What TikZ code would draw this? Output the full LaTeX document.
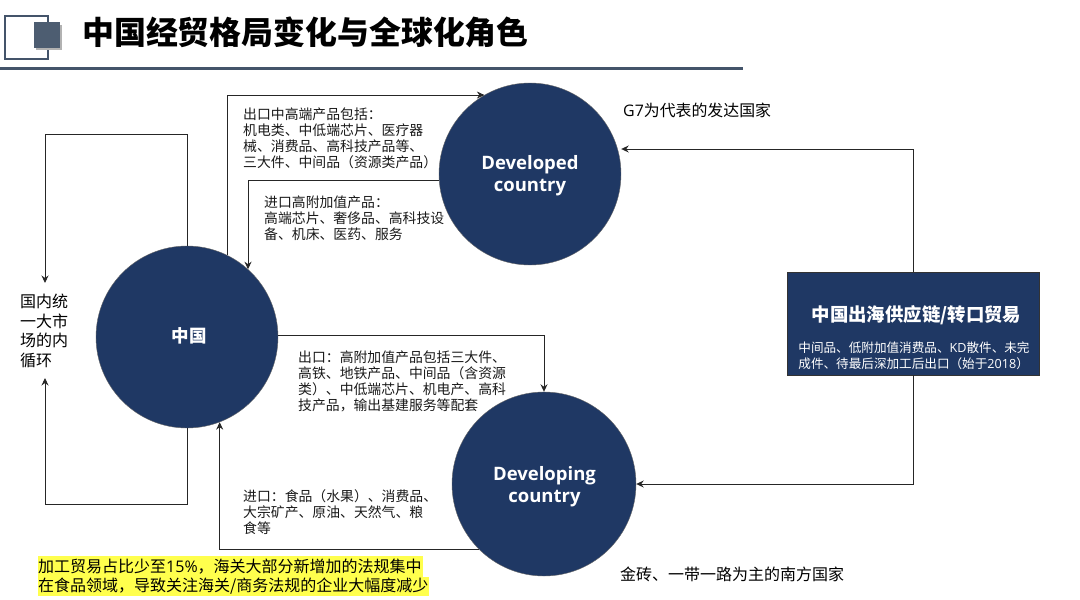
\documentclass[tikz,border=0pt]{standalone}
\usepackage{fontspec}
\setmainfont{Noto Sans CJK SC}
\newfontfamily\lat{Open Sans}
\usetikzlibrary{arrows.meta}
\definecolor{navy}{HTML}{1F3864}
\definecolor{slate}{HTML}{44546A}
\definecolor{hl}{HTML}{FFFF4D}
\tikzset{
  conn/.style={draw=black!85,line width=0.9pt,-{Stealth[length=7.5pt,width=7pt]}},
  bub/.style={circle,fill=navy,draw=black!60,line width=0.4pt,minimum size=182pt,inner sep=0pt},
  bubtext/.style={inner sep=0pt,text=white,align=center,font=\fontsize{18.5}{22}\selectfont\lat\bfseries},
  lab/.style={anchor=north west,inner sep=0pt,align=left,text=black!90,font=\fontsize{13.85}{16}\selectfont},
}
\begin{document}
\begin{tikzpicture}[x=1pt,y=-1pt]
\useasboundingbox (0,0) rectangle (1080,600);
% header
\draw[draw=slate,line width=1.2pt,fill=white] (5,16) rectangle (48,59);
\fill[black!30] (36,25) rectangle (62,50);
\fill[slate!95!white] (34,22) rectangle (60,48);
\node[anchor=west,inner sep=0pt,font=\fontsize{31.9}{36}\selectfont\bfseries] (title) at (82,32) {中国经贸格局变化与全球化角色};
\fill[slate] (0,66.5) rectangle (743,70);
% circles
\node[bub] (china) at (187,337) {};
\node[bub] (dev) at (530,174) {};
\node[bub,minimum size=184pt] (ding) at (544,484) {};
\node[inner sep=0pt,text=white,font=\fontsize{17.5}{20}\selectfont\bfseries] (chinat) at (189,335.5) {中国};
\node[bubtext] (devt) at (530,176) {Developed\\country};
\node[bubtext] (dingt) at (544.5,486.5) {Developing\\country};
% box
\node[draw=black!80,line width=0.5pt,fill=navy,minimum width=252pt,minimum height=103pt,inner sep=0pt] (box) at (913,323.5) {};
\node[inner sep=0pt,text=white,font=\fontsize{18.4}{22}\selectfont\bfseries] (boxt) at (916.5,315) {中国出海供应链/转口贸易};
\node[inner sep=0pt,text=white,align=left,font=\fontsize{12.6}{16}\selectfont] (boxs) at (914,356) {中间品、低附加值消费品、{\lat KD}散件、未完\\成件、待最后深加工后出口（始于{\lat 2018}）};
% connectors
\draw[conn] (china.64) |- (dev.120);
\draw[conn] (dev.184) -| (china.48);
\draw[conn] (china.east |- 0,335) -| (ding.north);
\draw[conn] (ding.225) -| (china.-69);
\draw[conn] (box.north) |- (dev.east |- 0,149);
\draw[conn] (box.south) |- (ding.east |- 0,484);
\coordinate (inTop) at (45,283);
\coordinate (inBot) at (45,378);
\draw[conn] (china.north) |- (45,134) -- (inTop);
\draw[conn] (china.south) |- (45,504) -- (inBot);
% labels
\node[lab] (t1) at (243,107.5) {出口中高端产品包括：\\机电类、中低端芯片、医疗器\\械、消费品、高科技产品等、\\三大件、中间品（资源类产品）};
\node[lab] (t2) at (264,195.5) {进口高附加值产品：\\高端芯片、奢侈品、高科技设\\备、机床、医药、服务};
\node[lab] (t3) at (298,350.5) {出口：高附加值产品包括三大件、\\高铁、地铁产品、中间品（含资源\\类）、中低端芯片、机电产、高科\\技产品，输出基建服务等配套};
\node[lab] (t4) at (243,489.5) {进口：食品（水果）、消费品、\\大宗矿产、原油、天然气、粮\\食等};
\node[anchor=west,inner sep=0pt,font=\fontsize{15.9}{18}\selectfont] (g7) at (623,110) {{\lat G7}为代表的发达国家};
\node[anchor=west,inner sep=0pt,font=\fontsize{16}{18}\selectfont] (south) at (620,574) {金砖、一带一路为主的南方国家};
\node[anchor=north west,inner sep=0pt,align=left,font=\fontsize{16}{19.5}\selectfont] (dom) at (20,294) {国内统\\一大市\\场的内\\循环};
% highlight
\fill[hl] (38,556) rectangle (423,577);
\fill[hl] (38,577) rectangle (429,596);
\node[anchor=west,inner sep=0pt,font=\fontsize{16}{19}\selectfont] (h1) at (38,566.5) {加工贸易占比少至{\lat 15\%}，海关大部分新增加的法规集中};
\node[anchor=west,inner sep=0pt,font=\fontsize{16}{19}\selectfont] (h2) at (38,586) {在食品领域，导致关注海关/商务法规的企业大幅度减少};
\end{tikzpicture}
\end{document}
